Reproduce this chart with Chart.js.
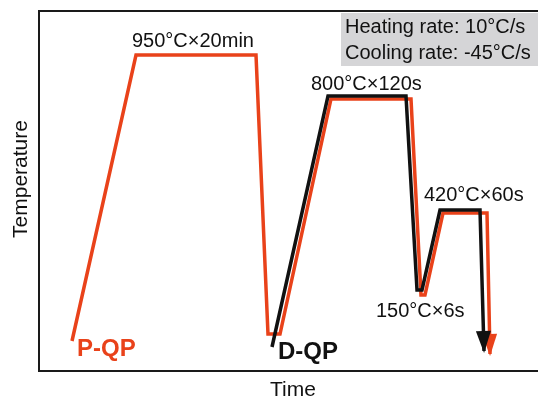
<!DOCTYPE html>
<html>
<head>
<meta charset="utf-8">
<script src="https://cdn.jsdelivr.net/npm/chart.js@4.4.1/dist/chart.umd.min.js"></script>
<style>
  html, body { margin: 0; padding: 0; background: #fff; }
  #wrap { width: 538px; height: 399px; }
</style>
</head>
<body>
<div id="wrap"><canvas id="myChart"></canvas></div>
<script>
// schematic heat-treatment paths, time / temperature in arbitrary units

// P-QP (red) path
var timePQP = [33, 97, 217, 229, 241, 292, 372, 382, 386, 404, 448, 451];
var tempPQP = [30, 316, 316, 37, 37, 272, 272, 76, 76, 158, 158, 17];

// D-QP (black) path
var timeDQP = [233, 289, 367, 378, 383, 401, 441, 445];
var tempDQP = [24, 275, 275, 81, 81, 161, 161, 20];

// text on the plot
var stepLabels = ["950°C×20min", "800°C×120s", "420°C×60s", "150°C×6s"];
var routeLabels = ["P-QP", "D-QP"];
var rateLines = ["Heating rate: 10°C/s", "Cooling rate: -45°C/s"];

var red = "rgb(233,66,26)";
var black = "#111";

function toPoints(xs, ys) {
  var pts = [];
  for (var i = 0; i < xs.length; i++) {
    pts.push({ x: xs[i], y: ys[i] });
  }
  return pts;
}

// where the labels sit (data units) and how they look
var stepAnchors = [[93, 324], [272, 281], [385, 170], [337, 54]];
var routeAnchors = [[38, 15], [239, 12]];
var routeColors = [red, black];

var annotate = {
  id: "annotate",
  afterDatasetDraw: function (chart, args) {
    // arrow head at the end of each path
    var ctx = chart.ctx;
    var pts = args.meta.data;
    var a = pts[pts.length - 2], b = pts[pts.length - 1];
    var ang = Math.atan2(b.y - a.y, b.x - a.x);
    var len = 22, half = 7.5;
    var tipX = b.x + Math.cos(ang) * 2, tipY = b.y + Math.sin(ang) * 2;
    var bx = tipX - Math.cos(ang) * len, by = tipY - Math.sin(ang) * len;
    ctx.save();
    ctx.fillStyle = chart.data.datasets[args.index].borderColor;
    ctx.beginPath();
    ctx.moveTo(tipX, tipY);
    ctx.lineTo(bx + Math.sin(ang) * half, by - Math.cos(ang) * half);
    ctx.lineTo(bx - Math.sin(ang) * half, by + Math.cos(ang) * half);
    ctx.closePath();
    ctx.fill();
    ctx.restore();
  },
  afterDraw: function (chart) {
    var ctx = chart.ctx;
    var xs = chart.scales.x, ys = chart.scales.y;
    var area = chart.chartArea;
    ctx.save();

    // gray info box, top right
    ctx.fillStyle = "#d5d5d7";
    ctx.fillRect(341, area.top + 2, chart.width - 341, 53);
    ctx.fillStyle = "#111";
    ctx.font = "20px 'Liberation Sans', Arial, sans-serif";
    ctx.textBaseline = "alphabetic";
    ctx.textAlign = "left";
    ctx.fillText(rateLines[0], 345, 33);
    ctx.fillText(rateLines[1], 345, 59);

    // step labels
    for (var i = 0; i < stepLabels.length; i++) {
      ctx.fillText(stepLabels[i], xs.getPixelForValue(stepAnchors[i][0]), ys.getPixelForValue(stepAnchors[i][1]));
    }

    // route labels
    ctx.font = "bold 24px 'Liberation Sans', Arial, sans-serif";
    for (var j = 0; j < routeLabels.length; j++) {
      ctx.fillStyle = routeColors[j];
      ctx.fillText(routeLabels[j], xs.getPixelForValue(routeAnchors[j][0]), ys.getPixelForValue(routeAnchors[j][1]));
    }

    // axis titles
    ctx.fillStyle = "#111";
    ctx.font = "21px 'Liberation Sans', Arial, sans-serif";
    ctx.textAlign = "center";
    ctx.fillText("Time", 293, 396);
    ctx.translate(27, (area.top + area.bottom) / 2 - 12);
    ctx.rotate(-Math.PI / 2);
    ctx.fillText("Temperature", 0, 0);
    ctx.restore();
  }
};

var hidden = {
  ticks: { display: false },
  grid: { display: false, drawTicks: false },
  border: { display: true, color: "#1a1a1a", width: 2 }
};

var ctx = document.getElementById("myChart").getContext("2d");
var chart = new Chart(ctx, {
  type: "line",
  data: {
    datasets: [
      {
        label: "D-QP",
        data: toPoints(timeDQP, tempDQP),
        borderColor: black,
        borderWidth: 3.5,
        borderJoinStyle: "miter",
        pointRadius: 0,
        tension: 0,
        fill: false
      },
      {
        label: "P-QP",
        data: toPoints(timePQP, tempPQP),
        borderColor: red,
        borderWidth: 3.5,
        borderJoinStyle: "miter",
        pointRadius: 0,
        tension: 0,
        fill: false
      }
    ]
  },
  options: {
    responsive: true,
    maintainAspectRatio: false,
    animation: false,
    layout: { padding: { left: 39, top: 11, right: 0, bottom: 28 } },
    plugins: { legend: { display: false }, tooltip: { enabled: false } },
    scales: {
      x: Object.assign({ type: "linear", min: 0, max: 499, position: "bottom" }, hidden),
      x2: Object.assign({ type: "linear", min: 0, max: 499, position: "top" }, hidden),
      y: Object.assign({ type: "linear", min: 0, max: 360 }, hidden)
    }
  },
  plugins: [annotate]
});
</script>
</body>
</html>
